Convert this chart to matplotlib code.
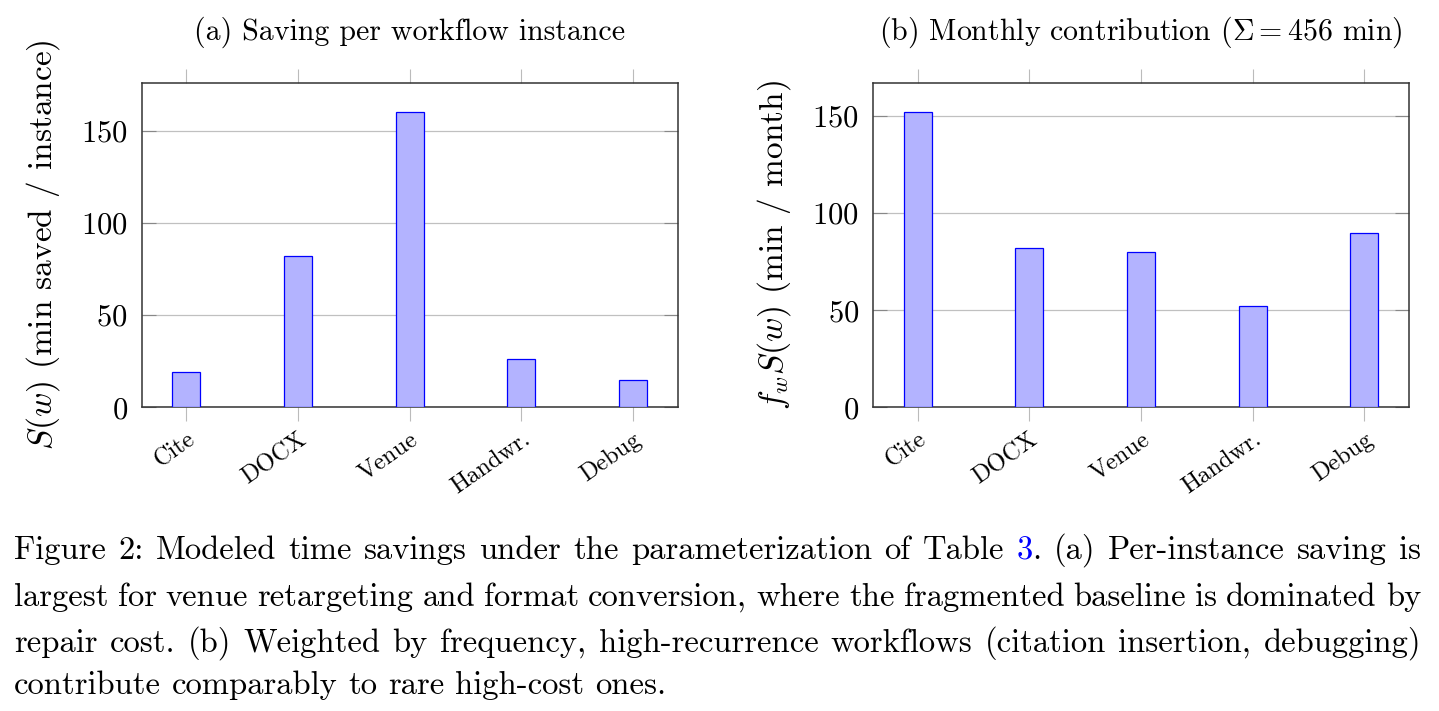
import matplotlib
matplotlib.use("Agg")
import matplotlib.pyplot as plt

plt.rcParams['font.family'] = 'cmr10'
plt.rcParams['mathtext.fontset'] = 'cm'
plt.rcParams['axes.formatter.use_mathtext'] = True

# data
workflows = ['Cite', 'DOCX', 'Venue', 'Handwr.', 'Debug']
saving_per_instance = [19, 82, 160, 26, 15]
monthly_contribution = [152, 82, 80, 52, 90]

titles = ['(a) Saving per workflow instance',
          r'(b) Monthly contribution ($\Sigma = 456$ min)']
ylabels = [r'$S(w)$ (min saved / instance)',
           r'$f_w S(w)$ (min / month)']
yticks = [0, 50, 100, 150]

caption = [
    "Figure 2: Modeled time savings under the parameterization of Table |3|. (a) Per-instance saving is",
    "largest for venue retargeting and format conversion, where the fragmented baseline is dominated by",
    "repair cost. (b) Weighted by frequency, high-recurrence workflows (citation insertion, debugging)",
    "contribute comparably to rare high-cost ones.",
]

W, H = 1439, 711
fig = plt.figure(figsize=(W / 100, H / 100), dpi=100)
ax_a = fig.add_axes([141.7/W, 1 - 407.5/H, 536/W, 325/H])
ax_b = fig.add_axes([873/W, 1 - 407.5/H, 536/W, 325/H])

for ax, vals, title, ylab in zip([ax_a, ax_b],
                                 [saving_per_instance, monthly_contribution],
                                 titles, ylabels):
    x = range(len(workflows))
    ax.bar(x, vals, width=0.25, color='#b3b3ff', edgecolor='#0000ff',
           linewidth=0.9, zorder=3)
    ax.set_xlim(-0.4, len(workflows) - 0.6)
    ax.set_ylim(0, max(vals) * 1.1)
    ax.set_yticks(yticks)
    ax.set_xticks(list(x))
    ax.set_xticklabels(workflows, rotation=35, ha='right',
                       rotation_mode='anchor', fontsize=17.5)
    ax.tick_params(axis='x', direction='out', top=True, length=10,
                   color='#bbbbbb', width=0.8, pad=5)
    ax.tick_params(axis='y', direction='in', right=True, length=10,
                   color='#888888', width=0.8, labelsize=22, pad=10)
    ax.grid(axis='y', color='#c0c0c0', linewidth=0.9, zorder=0)
    for sp in ax.spines.values():
        sp.set_linewidth(1.1)
        sp.set_color('#333333')
    ax.set_title(title, fontsize=21.5, pad=31)
    ax.set_ylabel(ylab, fontsize=24, labelpad=14)

# caption, justified by hand
fig.canvas.draw()
renderer = fig.canvas.get_renderer()
cap_size = 23.5
left, right = 14, 1421
baselines = [559, 606, 652, 694]


def text_width(s):
    t = fig.text(0, 0, s, fontsize=cap_size)
    w = t.get_window_extent(renderer).width
    t.remove()
    return w


space = text_width('a b') - text_width('ab')
for i, line in enumerate(caption):
    widths = []
    texts = []
    for word in line.split(' '):
        ws = []
        ts = []
        for k, part in enumerate(word.split('|')):
            if not part:
                continue
            color = '#0000ff' if k % 2 == 1 else 'black'
            t = fig.text(0, 0, part, fontsize=cap_size, color=color,
                         va='baseline', ha='left', transform=None)
            ws.append(t.get_window_extent(renderer).width)
            ts.append(t)
        widths.append(ws)
        texts.append(ts)
    total = sum(sum(ws) for ws in widths)
    if i < len(caption) - 1:
        gap = (right - left - total) / (len(widths) - 1)
    else:
        gap = space
    xpos = left
    y = H - baselines[i]
    for ws, ts in zip(widths, texts):
        for w, t in zip(ws, ts):
            t.set_position((xpos, y))
            xpos += w
        xpos += gap

fig.savefig('out.png', dpi=100)
